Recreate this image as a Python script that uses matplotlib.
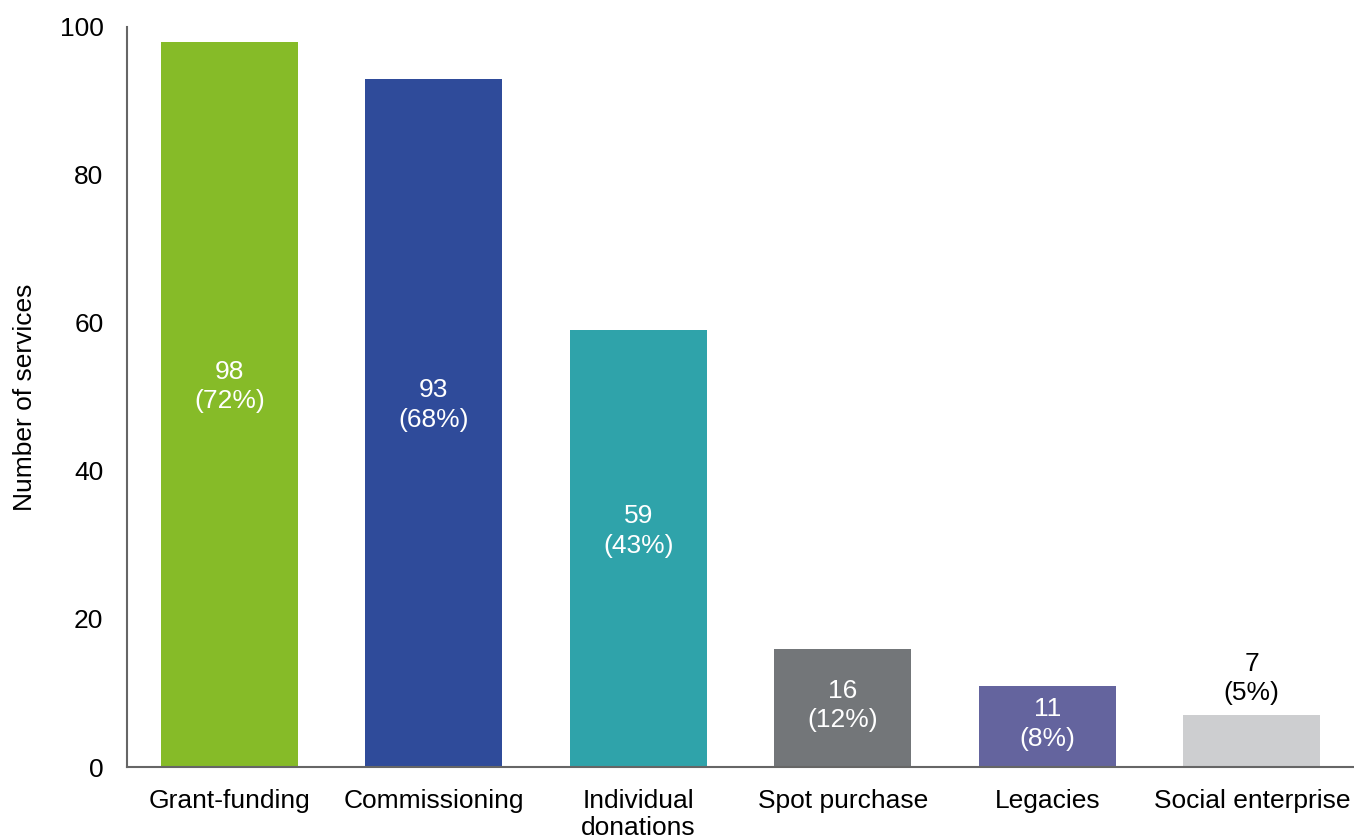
import matplotlib
matplotlib.use('Agg')
import matplotlib.pyplot as plt
import numpy as np

plt.rcParams['font.family'] = ['Liberation Sans', 'DejaVu Sans']

categories = ['Grant-funding', 'Commissioning', 'Individual\ndonations',
              'Spot purchase', 'Legacies', 'Social enterprise']
counts = [98, 93, 59, 16, 11, 7]
percents = [72, 68, 43, 12, 8, 5]
colors = ['#86BB28', '#2F4B9A', '#2FA3AA', '#737679', '#64649E', '#CDCED0']

fig = plt.figure(figsize=(13.54, 8.4), dpi=100)
ax = fig.add_axes([0.0938, 0.0869, 0.9062, 0.881])

x = np.arange(len(categories))
bars = ax.bar(x, counts, width=0.67, color=colors)

# 柱内标签 (白色), 太矮的柱子标签放在上方
for i, (c, p) in enumerate(zip(counts, percents)):
    label = f'{c}\n({p}%)'
    if c > 10:
        ax.text(i, c / 2 + (2.4 if c > 20 else 0.3), label, ha='center', va='center',
                color='white', fontsize=19, linespacing=1.28)
    else:
        ax.text(i, c + 1.4, label, ha='center', va='bottom',
                color='black', fontsize=19, linespacing=1.28)

ax.set_xlim(-0.5, 5.5)
ax.set_ylim(0, 100)
ax.set_yticks([0, 20, 40, 60, 80, 100])
ax.set_xticks(x)
ax.set_xticklabels(categories, linespacing=1.12)
ax.tick_params(axis='both', length=0, labelsize=19)
ax.tick_params(axis='x', pad=16)
ax.tick_params(axis='y', pad=17)
ax.set_ylabel('Number of services', fontsize=19, labelpad=16)

for side in ['top', 'right']:
    ax.spines[side].set_visible(False)
for side in ['left', 'bottom']:
    ax.spines[side].set_color('#666666')
    ax.spines[side].set_linewidth(1.5)

plt.savefig('out.png', dpi=100)
plt.close()
